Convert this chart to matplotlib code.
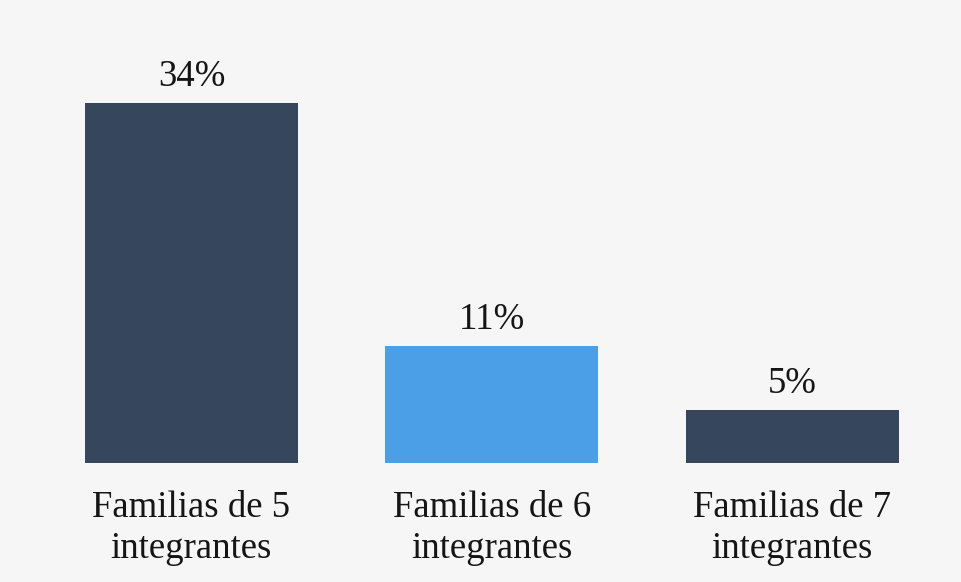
import numpy as np
import matplotlib.pyplot as plt

categorias = ["Familias de 5\nintegrantes", "Familias de 6\nintegrantes", "Familias de 7\nintegrantes"]
porcentajes = [34, 11, 5]
colores = ["#36465c", "#4a9fe6", "#36465c"]

plt.rcParams['font.family'] = ['Liberation Serif', 'DejaVu Serif']

fig = plt.figure(figsize=(9.61, 5.82), dpi=100, facecolor="#f6f6f6")
ax = fig.add_axes([0, 0.2045, 1, 0.728])
ax.set_facecolor("none")

x = np.arange(len(categorias))
bars = ax.bar(x, porcentajes, width=0.709, color=colores, zorder=3)

# etiquetas de porcentaje encima de cada barra
for b, v in zip(bars, porcentajes):
    ax.text(b.get_x() + b.get_width() / 2, v + 0.85, f"{v}%",
            ha="center", va="bottom", fontsize=26.5, color="#151515")

for xi, lab in zip(x, categorias):
    ax.text(xi, -2.6, lab, ha="center", va="top", fontsize=26.5,
            color="#151515", linespacing=1.26)

ax.set_xlim(-0.637, 2.561)
ax.set_ylim(0, 40)
ax.axis("off")

fig.savefig("out.png", dpi=100, facecolor=fig.get_facecolor())
